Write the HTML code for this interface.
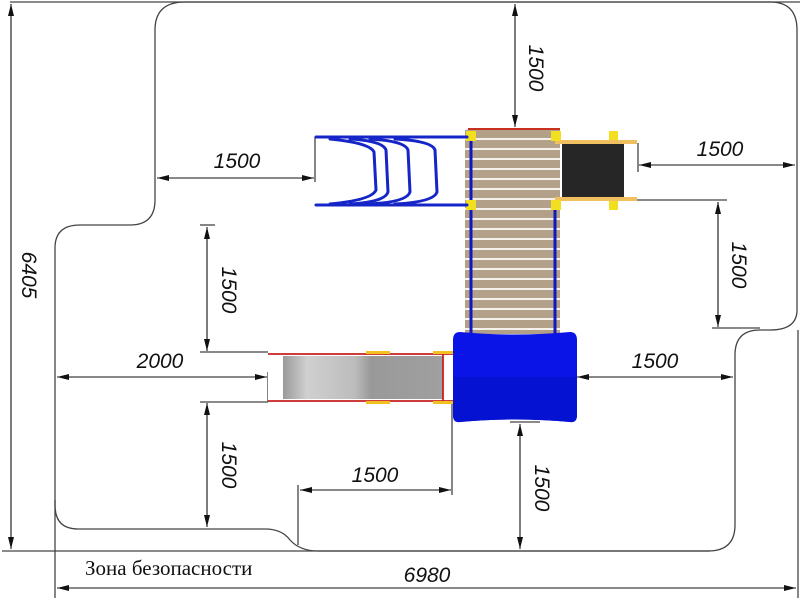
<!DOCTYPE html>
<html><head><meta charset="utf-8"><style>
html,body{margin:0;padding:0;background:#fff;width:800px;height:600px;overflow:hidden}
svg{display:block}
.d{font-family:"Liberation Sans","DejaVu Sans",sans-serif;font-style:italic;font-size:21px;fill:#111}
</style></head><body>
<svg width="800" height="600" viewBox="0 0 800 600" xmlns="http://www.w3.org/2000/svg">
<defs>
<marker id="a" viewBox="0 0 12 6" refX="12" refY="3" markerWidth="12" markerHeight="6" orient="auto-start-reverse" markerUnits="userSpaceOnUse"><path d="M0,0 L12,3 L0,6 z" fill="#111"/></marker>
<linearGradient id="g" x1="0" x2="1" y1="0" y2="0">
<stop offset="0" stop-color="#9a9a9a"/><stop offset="0.15" stop-color="#d0d0d0"/><stop offset="0.45" stop-color="#bcbcbc"/><stop offset="0.55" stop-color="#999"/><stop offset="1" stop-color="#a0a0a0"/></linearGradient>
</defs>
<g stroke="#444" stroke-width="1.3" fill="none">
<path d="M185,2 L770,2 Q797,2 797,30 L797,310 Q797,330 770,330 L760,330 Q735,330 735,355 L735,525 Q735,551 708,551 L318,551 Q300,551 290,540 Q282,529 265,529 L78,529 Q55,529 55,505 L55,248 Q55,225 80,225 L130,225 Q155,225 155,200 L155,30 Q155,2 185,2 Z"/>
<line x1="10" y1="2" x2="800" y2="2"/>
<line x1="2" y1="551" x2="710" y2="551"/>
<line x1="798" y1="330" x2="798" y2="598"/>
<line x1="55" y1="500" x2="55" y2="598"/>
<line x1="200" y1="352" x2="268" y2="352"/>
<line x1="200" y1="402" x2="268" y2="402"/>
<line x1="268" y1="372" x2="268" y2="402"/>
<line x1="315" y1="137" x2="315" y2="182"/>
<line x1="638" y1="143" x2="638" y2="172"/>
<line x1="595" y1="200" x2="727" y2="200"/>
<line x1="712" y1="328" x2="760" y2="328"/>
<line x1="200" y1="225" x2="215" y2="225"/>
<line x1="298" y1="485" x2="298" y2="545"/>
<line x1="452" y1="402" x2="452" y2="495"/>
<line x1="510" y1="422" x2="540" y2="422"/>
</g>
<g stroke="#111" stroke-width="1.1" fill="none">
<line x1="11" y1="4" x2="11" y2="549" marker-start="url(#a)" marker-end="url(#a)"/>
<line x1="57" y1="588" x2="796" y2="588" marker-start="url(#a)" marker-end="url(#a)"/>
<line x1="515" y1="4" x2="515" y2="127" marker-start="url(#a)" marker-end="url(#a)"/>
<line x1="157" y1="178" x2="314" y2="178" marker-start="url(#a)" marker-end="url(#a)"/>
<line x1="639" y1="165" x2="795" y2="165" marker-start="url(#a)" marker-end="url(#a)"/>
<line x1="718" y1="202" x2="718" y2="327" marker-start="url(#a)" marker-end="url(#a)"/>
<line x1="207" y1="227" x2="207" y2="351" marker-start="url(#a)" marker-end="url(#a)"/>
<line x1="57" y1="377" x2="267" y2="377" marker-start="url(#a)" marker-end="url(#a)"/>
<line x1="577" y1="377" x2="733" y2="377" marker-start="url(#a)" marker-end="url(#a)"/>
<line x1="207" y1="403" x2="207" y2="527" marker-start="url(#a)" marker-end="url(#a)"/>
<line x1="300" y1="490" x2="451" y2="490" marker-start="url(#a)" marker-end="url(#a)"/>
<line x1="520" y1="424" x2="520" y2="549" marker-start="url(#a)" marker-end="url(#a)"/>
</g>
<text class="d" x="237" y="168" text-anchor="middle">1500</text>
<text class="d" x="720" y="156" text-anchor="middle">1500</text>
<text class="d" x="160" y="368" text-anchor="middle">2000</text>
<text class="d" x="655" y="368" text-anchor="middle">1500</text>
<text class="d" x="375" y="482" text-anchor="middle">1500</text>
<text class="d" x="427" y="582" text-anchor="middle">6980</text>
<text class="d" transform="translate(22,275) rotate(90)" text-anchor="middle">6405</text>
<text class="d" transform="translate(529,68) rotate(90)" text-anchor="middle">1500</text>
<text class="d" transform="translate(732,265) rotate(90)" text-anchor="middle">1500</text>
<text class="d" transform="translate(222,290) rotate(90)" text-anchor="middle">1500</text>
<text class="d" transform="translate(222,465) rotate(90)" text-anchor="middle">1500</text>
<text class="d" transform="translate(535,488) rotate(90)" text-anchor="middle">1500</text>
<text x="85" y="575" font-family="Liberation Serif, serif" font-size="21" fill="#111">Зона безопасности</text>
<rect x="465" y="129" width="95" height="205" fill="#f4f0ea"/>
<g fill="#b3a089">
<rect x="465" y="130" width="95" height="8"/><rect x="465" y="140" width="95" height="8"/><rect x="465" y="150" width="95" height="8"/><rect x="465" y="160" width="95" height="8"/><rect x="465" y="170" width="95" height="8"/><rect x="465" y="180" width="95" height="8"/><rect x="465" y="190" width="95" height="8"/><rect x="465" y="200" width="95" height="8"/><rect x="465" y="210" width="95" height="8"/><rect x="465" y="220" width="95" height="8"/><rect x="465" y="230" width="95" height="8"/><rect x="465" y="240" width="95" height="8"/><rect x="465" y="250" width="95" height="8"/><rect x="465" y="260" width="95" height="8"/><rect x="465" y="270" width="95" height="8"/><rect x="465" y="280" width="95" height="8"/><rect x="465" y="290" width="95" height="8"/><rect x="465" y="300" width="95" height="8"/><rect x="465" y="310" width="95" height="8"/><rect x="465" y="320" width="95" height="8"/><rect x="465" y="330" width="95" height="4"/>
</g>
<line x1="468" y1="129" x2="560" y2="129" stroke="#c83020" stroke-width="2"/>
<line x1="471" y1="136" x2="471" y2="334" stroke="#1018c0" stroke-width="3"/>
<line x1="555" y1="205" x2="555" y2="334" stroke="#1018c0" stroke-width="3"/>
<rect x="562" y="142" width="62" height="56" fill="#262626"/>
<rect x="555" y="140" width="82" height="4" fill="#f0c060"/>
<rect x="555" y="197" width="82" height="4" fill="#f0c060"/>
<g fill="#f2e020">
<rect x="466" y="131" width="10" height="10"/><rect x="551" y="131" width="10" height="10"/><rect x="466" y="200" width="10" height="10"/><rect x="551" y="200" width="10" height="10"/><rect x="609" y="131" width="9" height="9"/><rect x="609" y="201" width="9" height="9"/>
</g>
<g stroke="#1525c8" stroke-width="3" fill="none" stroke-linecap="round">
<line x1="316" y1="137" x2="467" y2="137"/>
<line x1="316" y1="205" x2="467" y2="205"/>
<path d="M330,139 Q370,143 374,152 L376,190 Q372,200 330,204"/>
<path d="M350,139 Q383,141 386,150 L388,192 Q385,202 350,204"/>
<path d="M370,139 Q405,141 408,150 L410,192 Q407,202 370,204"/>
<path d="M395,139 Q432,141 435,150 L437,192 Q434,202 395,204"/>
</g>
<rect x="268" y="354" width="185" height="47" fill="#fff"/>
<rect x="283" y="356" width="160" height="43" fill="url(#g)"/>
<g stroke="#c82020" stroke-width="1.8">
<line x1="268" y1="354" x2="453" y2="354"/><line x1="268" y1="401" x2="453" y2="401"/><line x1="443" y1="354" x2="443" y2="401"/>
</g>
<g fill="#f2c020"><rect x="366" y="351" width="24" height="3"/><rect x="433" y="351" width="20" height="3"/><rect x="366" y="401" width="24" height="3"/><rect x="433" y="401" width="20" height="3"/></g>
<path d="M460,332 Q515,337 570,332 Q577,332 577,340 L577,415 Q577,423 570,422 Q515,417 460,422 Q453,423 453,415 L453,340 Q453,332 460,332 Z" fill="#0a14e6"/>
<path d="M453,377 L577,377 L577,415 Q577,423 570,422 Q515,417 460,422 Q453,423 453,415 Z" fill="#0512d2"/>
</svg>
</body></html>
